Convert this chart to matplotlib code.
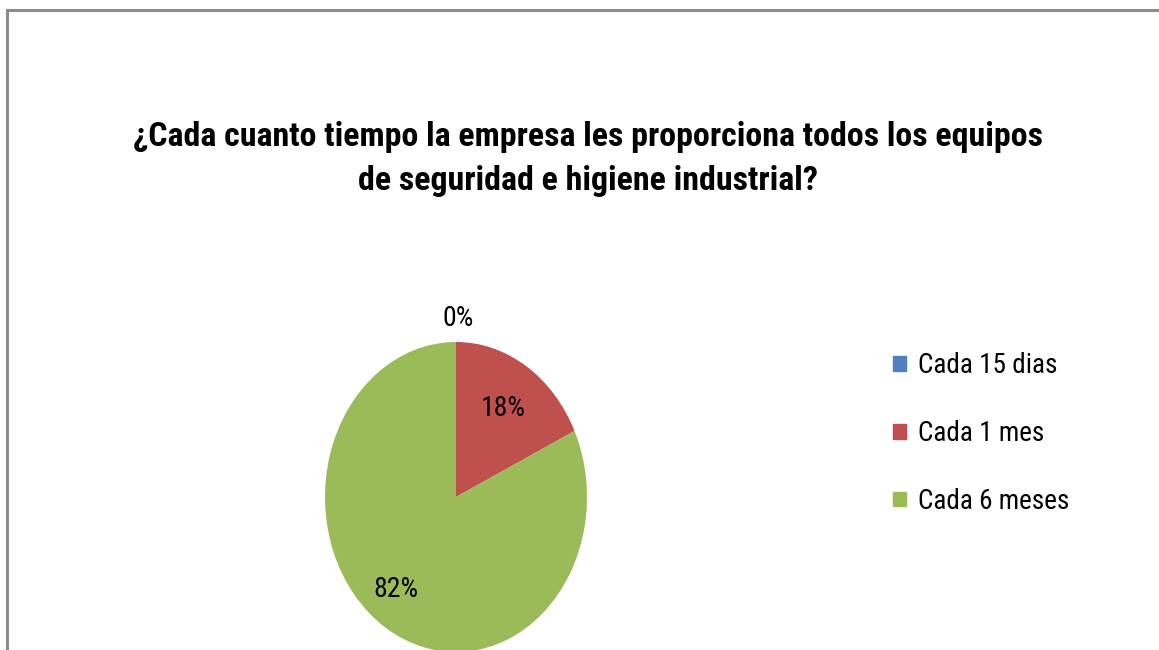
import matplotlib
matplotlib.use("Agg")
import matplotlib.pyplot as plt
from matplotlib.patches import Rectangle

TITLE = ("¿Cada cuanto tiempo la empresa les proporciona todos los equipos\n"
         "de seguridad e higiene industrial?")
categories = ["Cada 15 dias", "Cada 1 mes", "Cada 6 meses"]
values = [0, 18, 82]
colors = ["#4F81BD", "#C0504D", "#9BBB59"]

FONT = ["Roboto Condensed", "Lato", "DejaVu Sans"]

fig = plt.figure(figsize=(11.59, 6.5), dpi=100)
fig.patches.append(Rectangle((7 / 1159, -0.1), 1.2, 1.1 - 10 / 650,
                             transform=fig.transFigure, fill=False,
                             edgecolor="#8c8c8c", lw=2.2))

fig.text(588 / 1159, 1 - 159 / 650, TITLE, ha="center", va="center",
         fontsize=24.4, fontweight="bold", family=FONT, linespacing=1.5)

# pie is drawn stretched vertically, as in the original
ax = fig.add_axes([325 / 1159, -2 / 650, 262 / 1159, 310 / 650])
wedges, _, autotexts = ax.pie(values, colors=colors, startangle=90,
                              counterclock=False, radius=1,
                              autopct="%1.0f%%", pctdistance=0.68,
                              textprops=dict(fontsize=20, family=FONT))
ax.set_aspect("auto")
ax.set_xlim(-1, 1)
ax.set_ylim(-1, 1)
# Excel-style placement: the 0% label sits outside, 82% a bit lower-left
x, y = autotexts[0].get_position()
autotexts[0].set_position((x + 0.015, 1.15))
x, y = autotexts[2].get_position()
autotexts[2].set_position((x * 1.25, y * 1.04))

handles = [Rectangle((0, 0), 1, 1, color=c) for c in colors]
fig.legend(handles, categories, loc="upper left",
           bbox_to_anchor=(869 / 1159, 1 - 328 / 650), frameon=False,
           prop=dict(family=FONT, size=19.5), handlelength=0.45,
           handleheight=0.45, handletextpad=0.45, labelspacing=1.5)

fig.savefig("out.png", dpi=100)
